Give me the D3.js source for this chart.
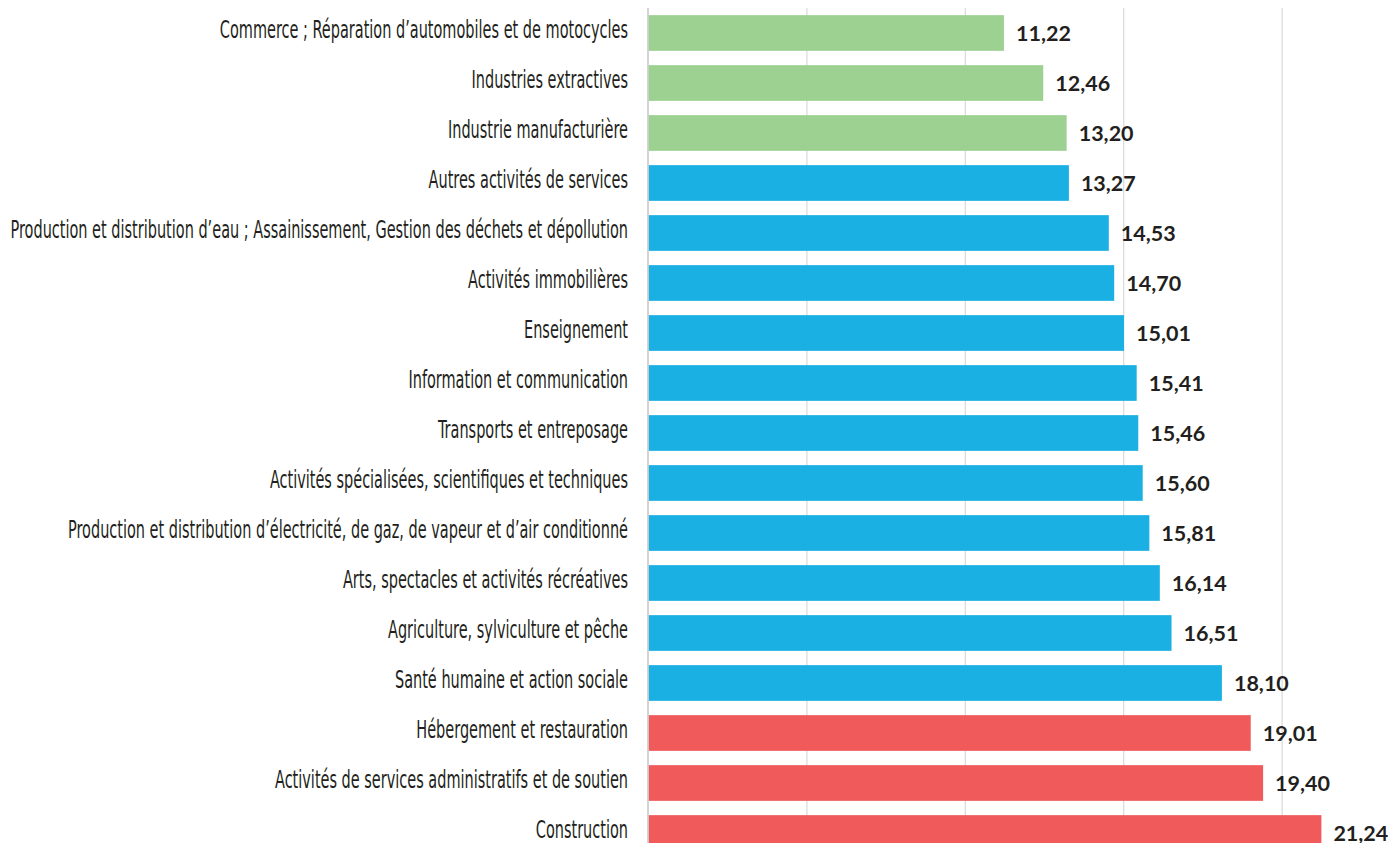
<!DOCTYPE html>
<html><head><meta charset="utf-8">
<script src="https://cdn.jsdelivr.net/npm/d3@7"></script>
<style>html,body{margin:0;padding:0;background:#fff;overflow:hidden}</style>
</head><body>
<svg id="chart" width="1394" height="843"></svg>
<script>
const categories = [
  "Commerce ; Réparation d’automobiles et de motocycles",
  "Industries extractives",
  "Industrie manufacturière",
  "Autres activités de services",
  "Production et distribution d’eau ; Assainissement, Gestion des déchets et dépollution",
  "Activités immobilières",
  "Enseignement",
  "Information et communication",
  "Transports et entreposage",
  "Activités spécialisées, scientifiques et techniques",
  "Production et distribution d’électricité, de gaz, de vapeur et d’air conditionné",
  "Arts, spectacles et activités récréatives",
  "Agriculture, sylviculture et pêche",
  "Santé humaine et action sociale",
  "Hébergement et restauration",
  "Activités de services administratifs et de soutien",
  "Construction"
];
const values = [11.22, 12.46, 13.20, 13.27, 14.53, 14.70, 15.01, 15.41, 15.46, 15.60, 15.81, 16.14, 16.51, 18.10, 19.01, 19.40, 21.24];
const groups = ["low","low","low","mid","mid","mid","mid","mid","mid","mid","mid","mid","mid","mid","high","high","high"];
const gridTicks = [0, 5, 10, 15, 20];

const colors = {low: "#9dd192", mid: "#1bb0e4", high: "#f05a5b"};
const data = categories.map((c, i) => ({cat: c, val: values[i], grp: groups[i]}));

const svg = d3.select("#chart");
const x = d3.scaleLinear().domain([0, 25]).range([648.5, 648.5 + 25 * 31.68]);
const y = d3.scaleBand().domain(categories).range([8, 858]).paddingInner(0.286).paddingOuter(0.143);

// gridlines
svg.append("g").selectAll("line").data(gridTicks.filter(t => t > 0)).join("line")
  .attr("x1", d => x(d)).attr("x2", d => x(d))
  .attr("y1", 8).attr("y2", 858)
  .attr("stroke", "#d9d9d9").attr("stroke-width", 1.2);

// bars
svg.append("g").selectAll("rect").data(data).join("rect")
  .attr("x", x(0)).attr("y", d => y(d.cat))
  .attr("width", d => x(d.val) - x(0)).attr("height", y.bandwidth())
  .attr("fill", d => colors[d.grp]);

// axis line
svg.append("line").attr("x1", x(0) - 0.5).attr("x2", x(0) - 0.5).attr("y1", 8).attr("y2", 858)
  .attr("stroke", "#c8c8c8").attr("stroke-width", 1.6);

// value labels
const fmt = v => d3.format(".2f")(v).replace(".", ",");
svg.append("g").selectAll("text").data(data).join("text")
  .attr("x", d => x(d.val) + 12)
  .attr("y", d => y(d.cat) + y.bandwidth() / 2 + 8)
  .attr("font-family", "Lato, 'Open Sans', sans-serif")
  .attr("font-weight", 700).attr("font-size", 21.5)
  .attr("fill", "#231f20")
  .text(d => fmt(d.val));

// category labels
const lg = svg.append("g");
const labels = lg.selectAll("text").data(data).join("text")
  .attr("x", 0)
  .attr("y", d => y(d.cat) + y.bandwidth() / 2 + 5.5)
  .attr("text-anchor", "end")
  .attr("font-family", "'Liberation Sans Narrow', 'DejaVu Sans Condensed', sans-serif")
  .attr("font-size", 24)
  .attr("fill", "#231f20")
  .text(d => d.cat);
let maxW = 0;
labels.each(function(){ maxW = Math.max(maxW, this.getComputedTextLength()); });
const sx = 618 / maxW;
lg.attr("transform", `translate(628,0) scale(${sx},1)`);
</script>
</body></html>
